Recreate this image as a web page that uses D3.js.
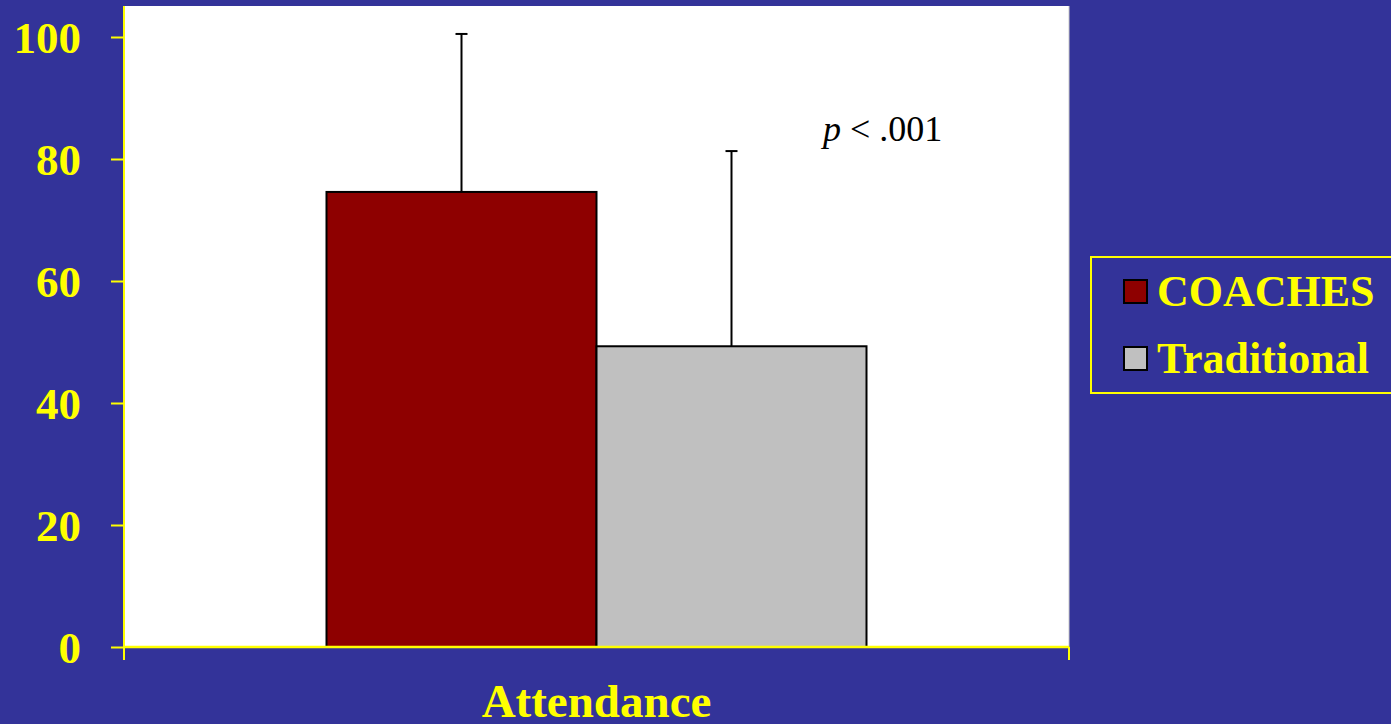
<!DOCTYPE html>
<html><head><meta charset="utf-8">
<script src="https://cdn.jsdelivr.net/npm/d3@7"></script>
<style>html,body{margin:0;padding:0;background:#333399;overflow:hidden}</style>
</head><body>
<svg id="c" width="1391" height="724"></svg>
<script>
const categories = ["Attendance"];
const seriesNames = ["COACHES", "Traditional"];
const seriesMeans = [74.6, 49.3];
const seriesErrTop = [100.5, 81.3];
const seriesColors = ["#8e0000", "#c0c0c0"];
const yTicks = [0, 20, 40, 60, 80, 100];
const annotation = ".001";

(function () {
const svg = d3.select("#c");
const W = 1391, H = 724;
svg.append("rect").attr("width", W).attr("height", H).attr("fill", "#333399");

const pL = 124, pR = 1069, pT = 6, pB = 647;
const y = d3.scaleLinear().domain([0, 100]).range([647, 37]);
const x0 = d3.scaleBand().domain(categories).range([pL, pR]).paddingInner(0).paddingOuter(0.375);
const x1 = d3.scaleBand().domain(seriesNames).range([0, x0.bandwidth()]).padding(0);

svg.append("rect").attr("x", pL).attr("y", pT).attr("width", pR - pL).attr("height", pB - pT)
  .attr("fill", "#ffffff");
svg.append("line").attr("x1", pR).attr("x2", pR).attr("y1", pT).attr("y2", pB)
  .attr("stroke", "#c8c8c8").attr("stroke-width", 1);

const data = seriesNames.map((s, i) => ({ s, v: seriesMeans[i], e: seriesErrTop[i], c: seriesColors[i] }));

const g = svg.append("g");
categories.forEach(cat => {
  const gx = x0(cat);
  data.forEach(d => {
    const cx = gx + x1(d.s) + x1.bandwidth() / 2;
    g.append("line").attr("x1", cx).attr("x2", cx).attr("y1", y(d.v)).attr("y2", y(d.e))
      .attr("stroke", "#000").attr("stroke-width", 2);
    g.append("line").attr("x1", cx - 6).attr("x2", cx + 6).attr("y1", y(d.e)).attr("y2", y(d.e))
      .attr("stroke", "#000").attr("stroke-width", 2);
  });
  data.forEach(d => {
    g.append("rect").attr("x", gx + x1(d.s)).attr("y", y(d.v))
      .attr("width", x1.bandwidth()).attr("height", y(0) - y(d.v))
      .attr("fill", d.c).attr("stroke", "#000").attr("stroke-width", 2);
  });
});

const yAxis = d3.axisLeft(y).tickValues(yTicks).tickSize(13).tickPadding(30).tickFormat(d3.format("d"));
const ya = svg.append("g").attr("transform", `translate(${pL},0)`).call(yAxis);
ya.select(".domain").remove();
ya.selectAll(".tick line").attr("stroke", "#ffff00").attr("stroke-width", 2);
ya.selectAll(".tick text").attr("fill", "#ffff00")
  .style("font-family", "'Liberation Serif','Times New Roman',serif")
  .style("font-weight", "bold").style("font-size", "45px").attr("dy", "0.34em");
svg.append("line").attr("x1", pL).attr("x2", pL).attr("y1", pT).attr("y2", 660)
  .attr("stroke", "#ffff00").attr("stroke-width", 2);

svg.append("line").attr("x1", pL).attr("x2", pR).attr("y1", pB).attr("y2", pB)
  .attr("stroke", "#ffff00").attr("stroke-width", 2.5);
[pL, pR].forEach(xx => svg.append("line").attr("x1", xx).attr("x2", xx).attr("y1", pB).attr("y2", 660)
  .attr("stroke", "#ffff00").attr("stroke-width", 2));
categories.forEach(cat => {
  svg.append("text").attr("x", x0(cat) + x0.bandwidth() / 2).attr("y", 717)
    .attr("text-anchor", "middle").attr("fill", "#ffff00")
    .style("font-family", "'Liberation Serif','Times New Roman',serif")
    .style("font-weight", "bold").style("font-size", "47px").text(cat);
});

const ann = svg.append("text").attr("x", 823).attr("y", 141).attr("fill", "#000")
  .style("font-family", "'Liberation Serif','Times New Roman',serif").style("font-size", "36px");
ann.append("tspan").style("font-style", "italic").text("p");
ann.append("tspan").text(" < " + annotation);

svg.append("rect").attr("x", 1091).attr("y", 257).attr("width", 310).attr("height", 136)
  .attr("fill", "none").attr("stroke", "#ffff00").attr("stroke-width", 2);
data.forEach((d, i) => {
  const yy = 280 + i * 67;
  svg.append("rect").attr("x", 1124).attr("y", yy).attr("width", 23).attr("height", 23)
    .attr("fill", d.c).attr("stroke", "#000").attr("stroke-width", 2);
  svg.append("text").attr("x", 1157).attr("y", yy + 26).attr("fill", "#ffff00")
    .style("font-family", "'Liberation Serif','Times New Roman',serif")
    .style("font-weight", "bold").style("font-size", "44px").text(d.s);
});
})();
</script>
</body></html>
